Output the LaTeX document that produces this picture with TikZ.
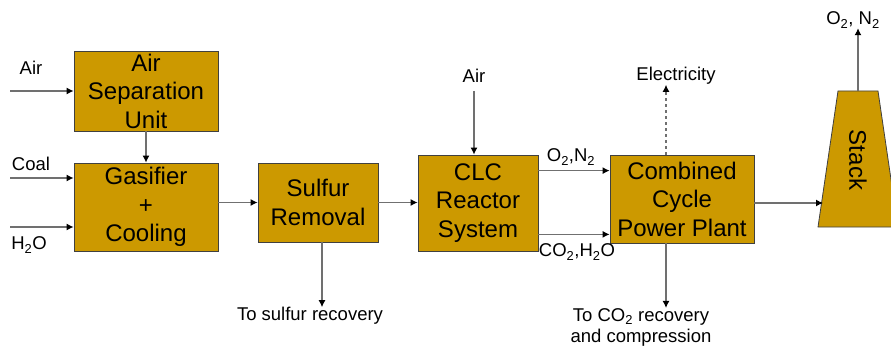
\documentclass[tikz,border=0pt]{standalone}
\usepackage{fontspec}
\setmainfont{Liberation Sans}
\usepackage{tikz}
\definecolor{gold}{RGB}{204,153,0}
\definecolor{linegray}{RGB}{112,112,112}
\definecolor{boxgray}{RGB}{64,64,64}
\usetikzlibrary{arrows.meta}

\begin{document}
\begin{tikzpicture}[x=1pt, y=-1pt,
			block/.style={draw=boxgray, line width=0.8pt, fill=gold, align=center, inner sep=0pt, font=\fontsize{24}{28.5}\selectfont},
			lbl/.style={inner sep=0pt, align=center, font=\fontsize{18.5}{21}\selectfont},
			flow/.style={draw=linegray, line width=1.2pt, -{Latex[length=7pt,width=7pt,color=black]}}]
			%Bildbereich
			\clip (0,0) rectangle (891,350);
			\fill[white] (0,0) rectangle (891,350);
			%Bloecke zeichnen
			\node[block, minimum width=144pt, minimum height=80pt] (asu) at (146,91) {Air\\Separation\\Unit};
			\node[block, minimum width=144pt, minimum height=88pt] (gas) at (146,207) {Gasifier\\+\\Cooling};
			\node[block, minimum width=120pt, minimum height=79pt] (sul) at (318,202.5) {Sulfur\\Removal};
			\node[block, minimum width=120pt, minimum height=96pt] (clc) at (478,203) {CLC\\Reactor\\System};
			\node[block, minimum width=144pt, minimum height=88pt] (ccpp) at (682,199) {Combined\\Cycle\\Power Plant};
			%Kamin
			\draw[draw=boxgray, line width=0.8pt, fill=gold] (838,91) -- (878,91) -- (898,227) -- (818,227) -- cycle;
			\node[rotate=-90, inner sep=0pt, font=\fontsize{24}{28}\selectfont] (stack) at (858,160) {Stack};
			\coordinate (stackin) at (823,203);
			\coordinate (stacktop) at (858,91);
			%Beschriftung
			\node[lbl] (airl) at (31,68) {Air};
			\node[lbl] (coal) at (31,164) {Coal};
			\node[lbl] (water) at (29,245) {H\textsubscript{2}O};
			\node[lbl] (airclc) at (474,76) {Air};
			\node[lbl] (elec) at (676,76) {Electricity};
			\node[lbl] (oxn) at (571,157) {O\textsubscript{2},N\textsubscript{2}};
			\node[lbl] (coh) at (577,252) {CO\textsubscript{2},H\textsubscript{2}O};
			\node[lbl] (tosul) at (310,316) {To sulfur recovery};
			\node[lbl] (toco) at (641,327) {To CO\textsubscript{2} recovery\\and compression};
			\node[lbl] (stackout) at (853,20) {O\textsubscript{2}, N\textsubscript{2}};
			%Eingaenge
			\foreach \n/\yy in {airin/91, coalin/178, h2oin/227}
				\coordinate (\n) at (10,\yy);
			%Pfeile zeichnen
			\draw[flow] (airin) -- (airin -| asu.west);
			\draw[flow] (coalin) -- (coalin -| gas.west);
			\draw[flow] (h2oin) -- (h2oin -| gas.west);
			\draw[flow] (asu.south) -- (gas.north);
			\draw[flow] (sul.west -| gas.east) -- (sul.west);
			\draw[flow] ([xshift=4pt]sul.south) -- ([xshift=4pt]sul.south |- tosul.north);
			\draw[flow] (sul.east) -- (sul.east -| clc.west);
			\draw[flow] (airclc.south |- 0,91) -- (airclc.south |- clc.north);
			\draw[flow] ([yshift=-16pt]clc.north east) -- ([yshift=-16pt]ccpp.north west);
			\draw[flow] ([yshift=17pt]clc.south east) -- ([yshift=9pt]ccpp.south west);
			\draw[flow, dashed] ([xshift=-16pt]ccpp.north) -- ([xshift=-16pt]ccpp.north |- elec.south);
			\draw[flow] ([xshift=-16pt]ccpp.south) -- ([xshift=-16pt]ccpp.south |- toco.north);
			\draw[flow] (stackin -| ccpp.east) -- (stackin);
			\draw[flow] (stacktop) -- (stacktop |- stackout.south);
		\end{tikzpicture}
\end{document}
